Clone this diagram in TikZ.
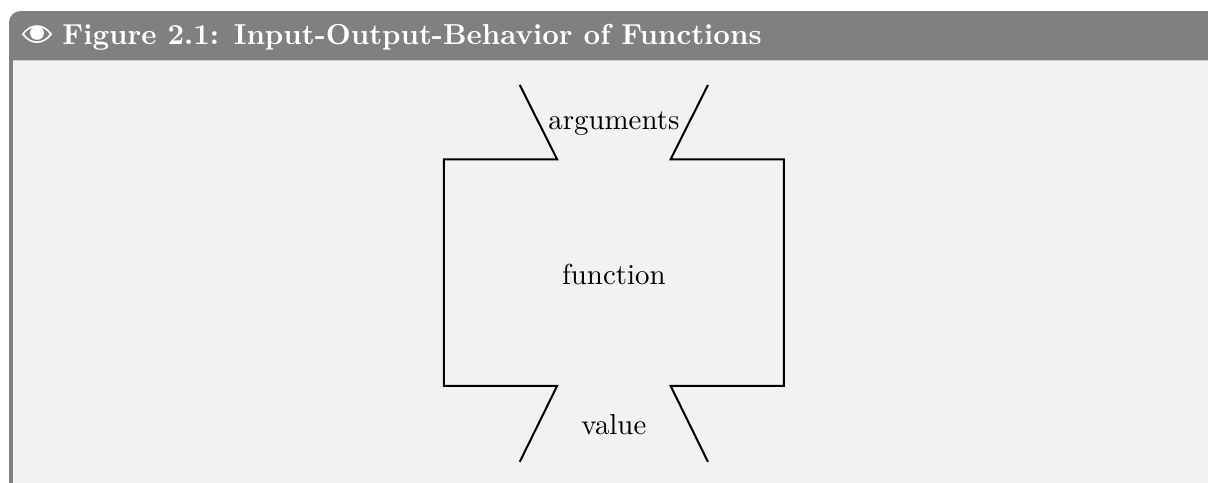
\documentclass[tikz,border=0pt]{standalone}
\usetikzlibrary{positioning}
\colorlet{cFrame}{black!50}
\colorlet{cBody}{black!5}
\tikzset{
  boxtitle/.style={font=\bfseries, text=white, anchor=west},
  boxlabel/.style={font=\normalsize, text=black},
  funcline/.style={line width=0.7pt, black, line join=miter},
}

\begin{document}
\begin{tikzpicture}
  \useasboundingbox (0,0) rectangle (14.7,-5.876);

  % Frame
  \fill[cFrame, rounded corners=0.14cm] (0.11,-6.2) -- (0.11,-0.134) -- (15.2,-0.134) -- (15.2,-6.2) -- cycle;
  \fill[cBody] (0.158,-5.876) -- (0.158,-0.73) -- (14.7,-0.73) -- (14.7,-5.876) -- cycle;
  \draw[black!18, line width=0.3pt] (0.158,-0.73) -- (14.7,-0.73);
  % Eye
  \fill[white] (0.265,-0.415) .. controls (0.37,-0.27) and (0.53,-0.27) .. (0.635,-0.415)
    .. controls (0.53,-0.56) and (0.37,-0.56) .. (0.265,-0.415) -- cycle;
  \fill[cFrame] (0.295,-0.415) .. controls (0.38,-0.30) and (0.52,-0.30) .. (0.605,-0.415)
    .. controls (0.52,-0.53) and (0.38,-0.53) .. (0.295,-0.415) -- cycle;
  \fill[white] (0.45,-0.40) circle (0.085);
  \node[boxtitle] (title) at (0.635,-0.45) {Figure 2.1: Input-Output-Behavior of Functions};

  % Function
  \node[boxlabel] (func) at (7.47,-3.34) {function};
  \node[boxlabel] (args) at (7.47,-1.50) {arguments};
  \node[boxlabel] (val) at (7.47,-5.17) {value};
  \draw[funcline] (6.325,-1.034) -- (6.78,-1.94) -- (5.40,-1.94) -- (5.40,-4.695)
    -- (6.78,-4.695) -- (6.325,-5.62);
  \draw[funcline] (8.615,-1.034) -- (8.16,-1.94) -- (9.54,-1.94) -- (9.54,-4.695)
    -- (8.16,-4.695) -- (8.615,-5.62);
\end{tikzpicture}
\end{document}
